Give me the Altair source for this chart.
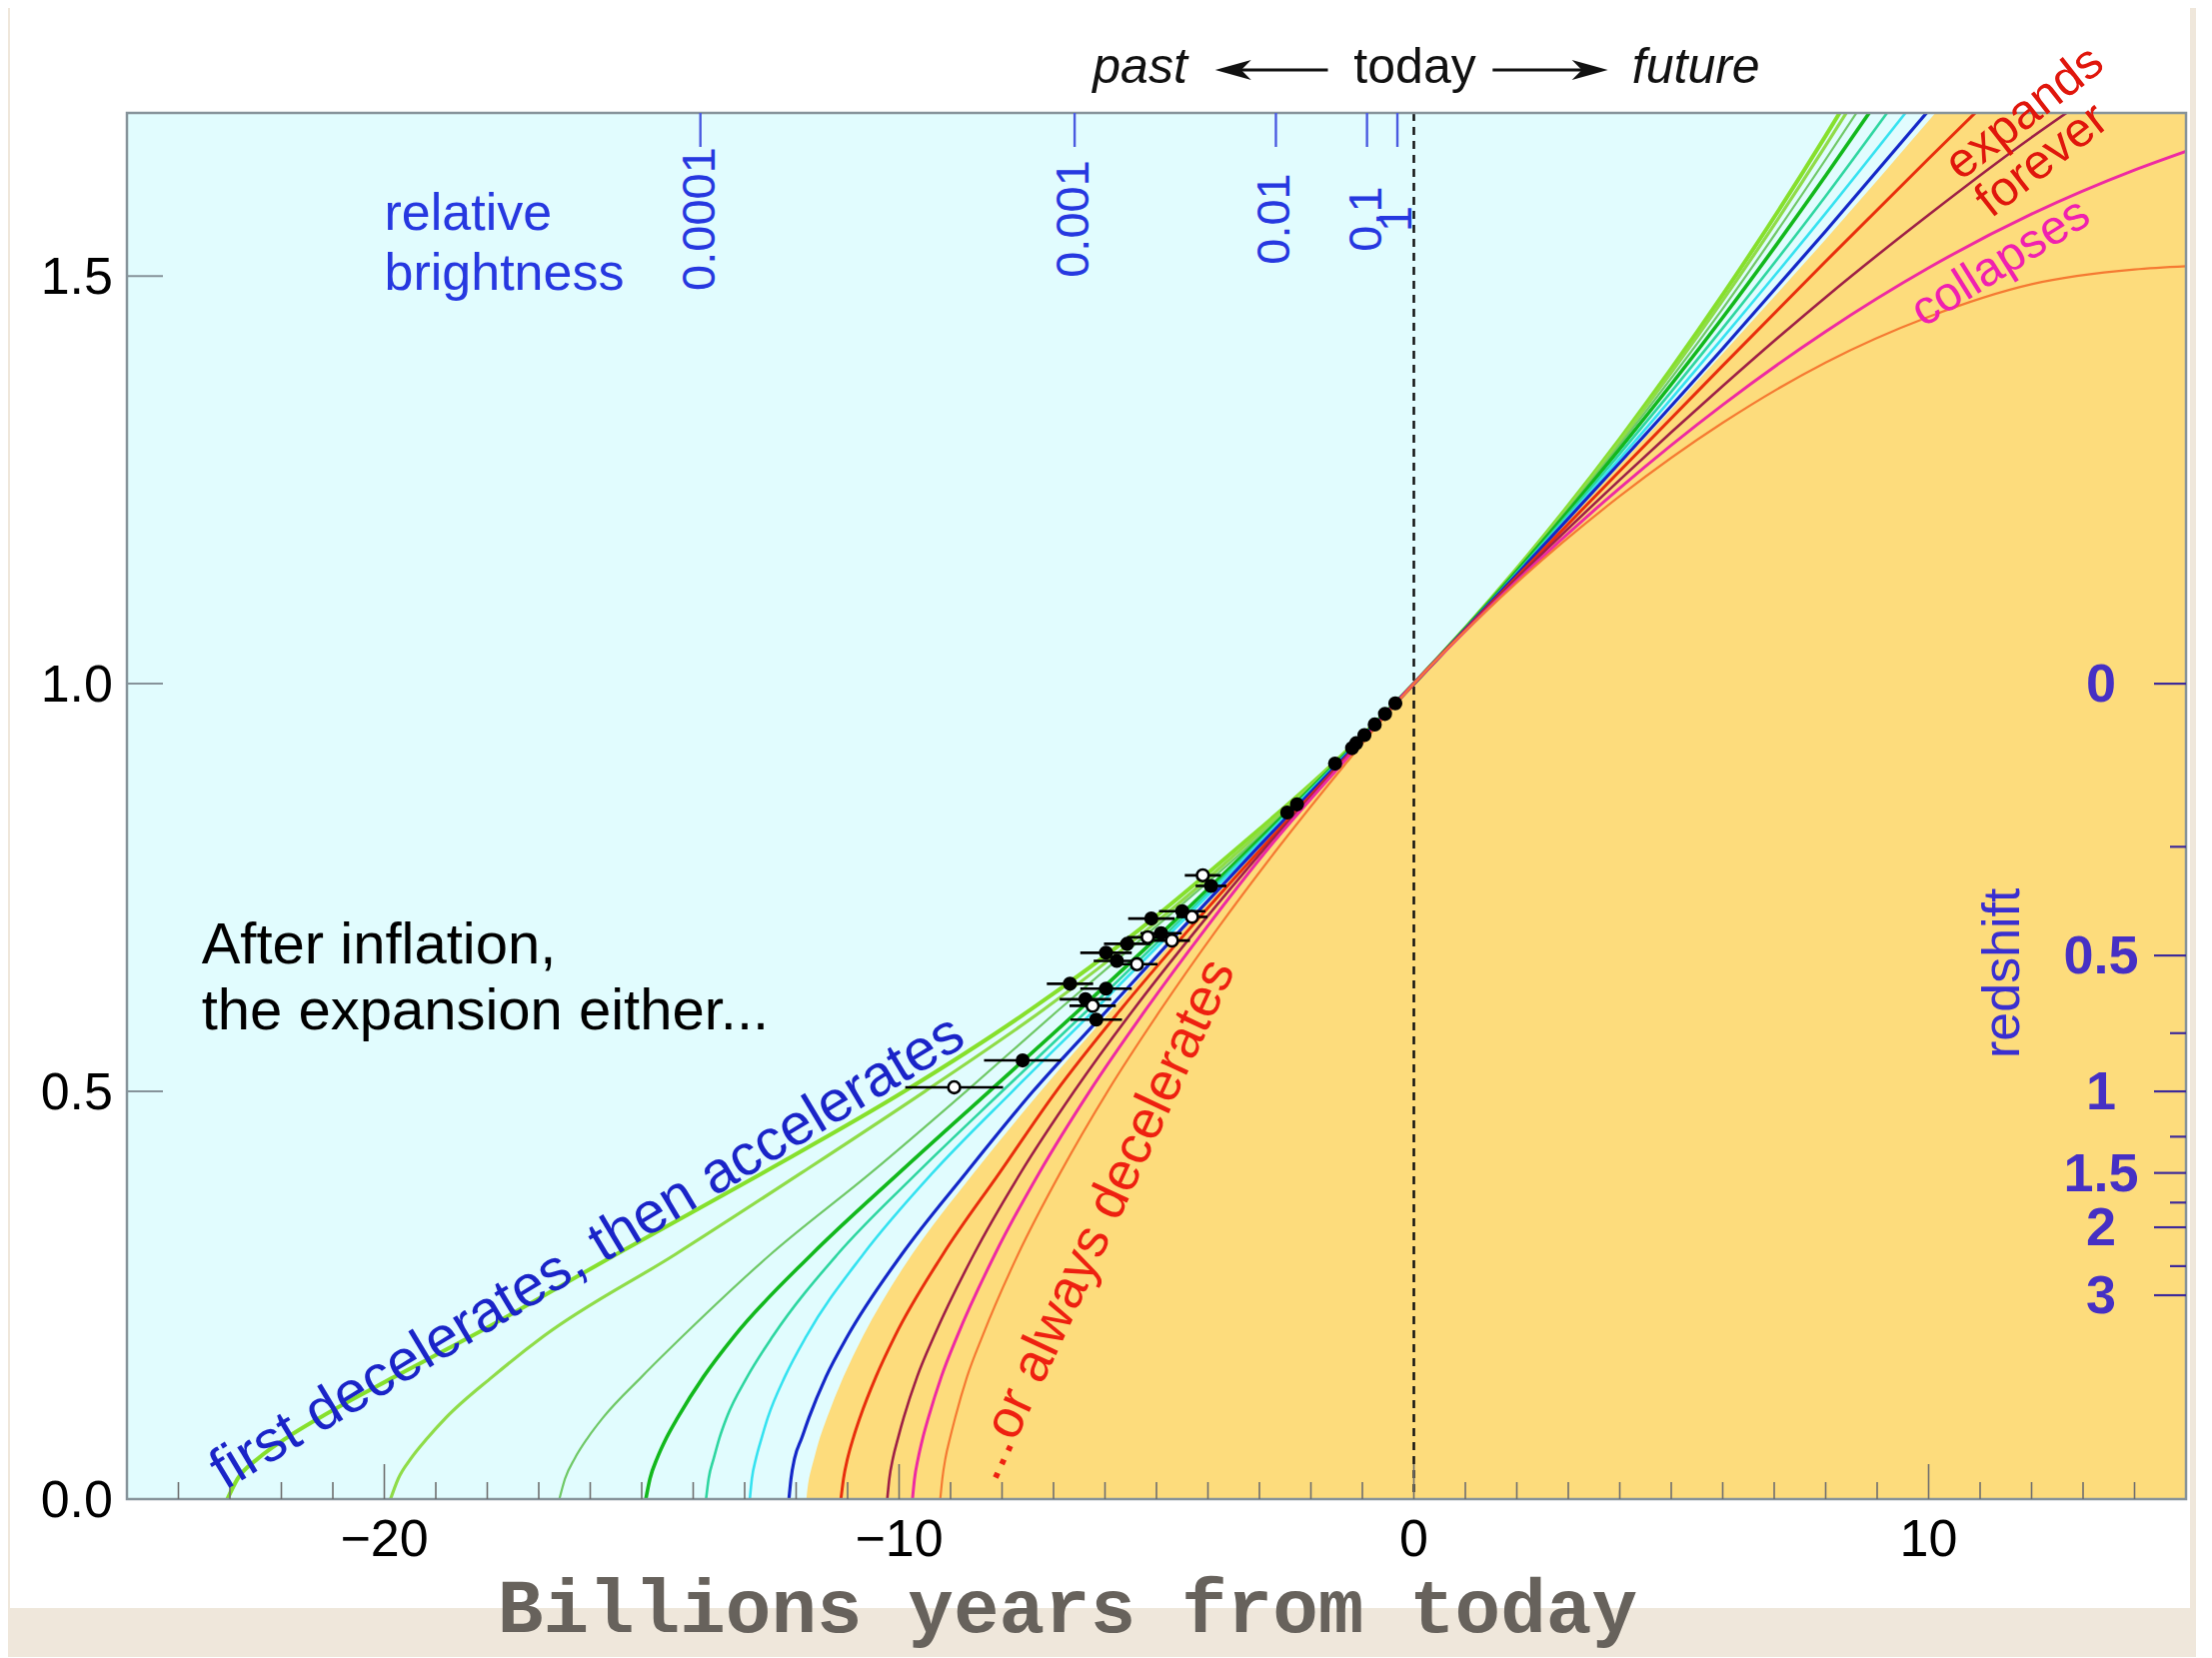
import altair as alt
import pandas as pd

W, H = 2060, 1387
X_DOMAIN = [-25, 15]
Y_DOMAIN = [0, 1.7]

# ---------------- curve readings (x = billions of years from today, y = relative size) ----------
PAST_Y = [0, 0.025, 0.05, 0.075, 0.1, 0.15, 0.2, 0.3, 0.4, 0.5, 0.6, 0.7, 0.8, 0.9, 1.0]

C1_X = [-23.05, -22.85, -22.45, -21.9, -21.25, -19.8, -18.3, -15.5, -12.65, -9.9, -7.45, -5.3, -3.4, -1.6, 0, 2, 4, 6, 8, 8.3]
C1_F = [1.141, 1.300, 1.477, 1.672, 1.703]
C2_X = [-19.88, -19.73, -19.48, -19.16, -18.8, -17.9, -16.9, -14.35, -11.9, -9.5, -7.2, -5.15, -3.3, -1.58, 0, 2, 4, 6, 8, 8.45]
C2_F = [1.140, 1.297, 1.470, 1.660, 1.705]
C3_X = [-16.6, -16.49, -16.3, -16.05, -15.75, -15.0, -14.2, -12.5, -10.55, -8.7, -6.9, -5.05, -3.22, -1.56, 0, 2, 4, 6, 8, 8.65]
C3_F = [1.139, 1.293, 1.460, 1.643, 1.705]
C4_X = [-14.92, -14.84, -14.7, -14.52, -14.3, -13.8, -13.2, -11.7, -10.0, -8.25, -6.5, -4.8, -3.15, -1.55, 0, 2, 4, 6, 8, 8.9]
C4_F = [1.138, 1.288, 1.449, 1.623, 1.705]
C5_X = [-13.75, -13.70, -13.6, -13.49, -13.35, -12.95, -12.45, -11.2, -9.65, -8.0, -6.33, -4.7, -3.1, -1.53, 0, 2, 4, 6, 8, 9.25]
C5_F = [1.136, 1.282, 1.436, 1.598, 1.705]
C6_X = [-12.9, -12.86, -12.78, -12.67, -12.55, -12.22, -11.8, -10.7, -9.35, -7.8, -6.2, -4.63, -3.07, -1.52, 0, 2, 4, 6, 8, 9.6]
C6_F = [1.135, 1.276, 1.424, 1.577, 1.704]
C7_X = [-12.14, -12.10, -12.03, -11.89, -11.75, -11.42, -11.0, -9.95, -8.7, -7.4, -5.95, -4.5, -3.02, -1.5, 0, 2, 4, 6, 8, 10]
C7_F = [1.134, 1.271, 1.411, 1.555, 1.703]
BND_X = [-11.8, -11.75, -11.65, -11.54, -11.4, -11.08, -10.7, -9.75, -8.55, -7.25, -5.87, -4.45, -2.98, -1.48, 0, 2, 4, 6, 8, 10.2]
BND_F = [1.133, 1.268, 1.405, 1.545, 1.705]
C8_X = [-11.13, -11.08, -11.0, -10.89, -10.76, -10.45, -10.08, -9.15, -8.05, -6.95, -5.70, -4.35, -2.93, -1.46, 0, 2, 4, 6, 8, 10, 11]
C8_F = [1.131, 1.261, 1.390, 1.518, 1.644, 1.706]
C9_X = [-10.23, -10.19, -10.12, -10.02, -9.91, -9.65, -9.32, -8.55, -7.64, -6.6, -5.45, -4.2, -2.87, -1.44, 0, 2, 4, 6, 8, 10, 12, 12.7]
C9_F = [1.129, 1.250, 1.365, 1.474, 1.575, 1.670, 1.701]
C10_X = [-9.74, -9.70, -9.63, -9.54, -9.43, -9.18, -8.87, -8.14, -7.28, -6.30, -5.21, -4.04, -2.8, -1.42, 0, 2, 4, 6, 8, 10, 12, 14, 15]
C10_F = [1.126, 1.240, 1.342, 1.432, 1.51, 1.576, 1.630, 1.653]
C11_X = [-9.2, -9.16, -9.1, -9.01, -8.91, -8.68, -8.38, -7.69, -6.87, -5.95, -4.92, -3.81, -2.62, -1.35, 0, 2, 4, 6, 8, 10, 12, 14, 15]
C11_F = [1.124, 1.230, 1.320, 1.394, 1.45, 1.49, 1.508, 1.512]

CURVES = [
    ("c1", C1_X, PAST_Y + C1_F, "#86e02c", 4.0),
    ("c2", C2_X, PAST_Y + C2_F, "#8fdc48", 3.2),
    ("c3", C3_X, PAST_Y + C3_F, "#6fc866", 2.2),
    ("c4", C4_X, PAST_Y + C4_F, "#12b81c", 3.6),
    ("c5", C5_X, PAST_Y + C5_F, "#2ed6a0", 2.6),
    ("c6", C6_X, PAST_Y + C6_F, "#35e2f0", 2.6),
    ("c7", C7_X, PAST_Y + C7_F, "#1428c8", 3.2),
    ("c8", C8_X, PAST_Y + C8_F, "#e82e0c", 3.0),
    ("c9", C9_X, PAST_Y + C9_F, "#9e1f46", 2.6),
    ("c10", C10_X, PAST_Y + C10_F, "#ee2aa2", 3.0),
    ("c11", C11_X, PAST_Y + C11_F, "#f57a32", 2.2),
]

# ---------------- supernova points ----------------
PT_X = [-0.36, -0.56, -0.76, -0.96, -1.12, -1.2, -1.53, -2.27, -2.46, -3.94, -4.10, -4.5, -4.31, -5.1,
        -4.91, -5.17, -4.7, -5.57, -5.98, -5.38, -5.77, -6.68, -5.98, -6.38, -6.24, -6.17, -7.6, -8.93]
PT_Y = [0.976, 0.963, 0.950, 0.937, 0.927, 0.921, 0.902, 0.852, 0.842, 0.752, 0.765, 0.721, 0.714, 0.712,
        0.694, 0.689, 0.685, 0.681, 0.670, 0.656, 0.660, 0.632, 0.626, 0.613, 0.605, 0.588, 0.538, 0.505]
PT_OPEN = [0, 0, 0, 0, 0, 0, 0, 0, 0, 0, 1, 0, 1, 0, 0, 1, 1, 0, 0, 1, 0, 0, 0, 0, 1, 0, 0, 1]
PT_ERR = [0.06, 0.06, 0.06, 0.06, 0.06, 0.06, 0.08, 0.1, 0.1, 0.3, 0.35, 0.45, 0.3, 0.45, 0.4, 0.4,
          0.35, 0.45, 0.5, 0.4, 0.45, 0.45, 0.5, 0.5, 0.45, 0.5, 0.75, 0.95]

# ---------------- axes ----------------
X_MAJOR = [-20, -10, 0, 10]
X_LABELS = ["\u221220", "\u221210", "0", "10"]
X_MINOR = [-24, -23, -22, -21, -19, -18, -17, -16, -15, -14, -13, -12, -11, -9, -8, -7, -6, -5, -4, -3,
           -2, -1, 1, 2, 3, 4, 5, 6, 7, 8, 9, 11, 12, 13, 14]
Y_MAJOR = [0.0, 0.5, 1.0, 1.5]
Y_LABELS = ["0.0", "0.5", "1.0", "1.5"]
BRIGHT_X = [-13.86, -6.59, -2.68, -0.91, -0.32]
BRIGHT_LABELS = ["0.0001", "0.001", "0.01", "0.1", "1"]
Z_MAJOR = [0, 0.5, 1, 1.5, 2, 3]
Z_LABELS = ["0", "0.5", "1", "1.5", "2", "3"]
Z_MINOR = [0.25, 0.75, 1.25, 1.75, 2.5]

FONT = "Liberation Sans"
xsc = alt.Scale(domain=X_DOMAIN, nice=False, zero=False)
ysc = alt.Scale(domain=Y_DOMAIN, nice=False, zero=False)


def XF(f="x"):
    return alt.X(f"{f}:Q", scale=xsc, axis=None)


def YF(f="y"):
    return alt.Y(f"{f}:Q", scale=ysc, axis=None)


one = pd.DataFrame({"k": [0]})
layers = []

# white card and plot backgrounds
layers.append(alt.Chart(one).mark_rect(color="#ffffff").encode(
    x=alt.value(-117), x2=alt.value(2064), y=alt.value(-107), y2=alt.value(1496)))
layers.append(alt.Chart(one).mark_rect(color="#e1fcfe").encode(
    x=alt.value(0), x2=alt.value(W), y=alt.value(0), y2=alt.value(H)))

# orange (always-decelerating) region
bnd = pd.DataFrame({"x": BND_X, "y": PAST_Y + BND_F})
bnd["xr"] = X_DOMAIN[1]
layers.append(alt.Chart(bnd).mark_area(orient="horizontal", interpolate="monotone", clip=True,
                                        color="#fddc7c").encode(x=XF(), x2="xr:Q", y=YF()))

# dashed "today" line
layers.append(alt.Chart(pd.DataFrame({"x": [0]})).mark_rule(color="#111111", strokeWidth=2.5,
                                                            strokeDash=[8, 6]).encode(
    x=XF(), y=alt.value(0), y2=alt.value(H)))

# expansion curves
for name, xs, ys, col, sw in CURVES:
    df = pd.DataFrame({"x": xs, "y": ys})
    layers.append(alt.Chart(df).mark_line(interpolate="monotone", clip=True, color=col,
                                          strokeWidth=sw).encode(x=XF(), y=YF()))

# supernova data
pts = pd.DataFrame({"x": PT_X, "y": PT_Y, "open": PT_OPEN, "err": PT_ERR})
pts["lo"] = pts["x"] - pts["err"]
pts["hi"] = pts["x"] + pts["err"]
layers.append(alt.Chart(pts).mark_rule(color="#000000", strokeWidth=2.6).encode(
    x=XF("lo"), x2="hi:Q", y=YF()))
layers.append(alt.Chart(pts[pts["open"] == 0]).mark_point(filled=True, color="#000000", size=200,
                                                          opacity=1).encode(x=XF(), y=YF()))
layers.append(alt.Chart(pts[pts["open"] == 1]).mark_point(filled=True, fill="#ffffff", stroke="#000000",
                                                          strokeWidth=2.6, size=140, opacity=1).encode(
    x=XF(), y=YF()))

# frame
layers.append(alt.Chart(one).mark_rect(fillOpacity=0, stroke="#86939a", strokeWidth=2.5).encode(
    x=alt.value(0), x2=alt.value(W), y=alt.value(0), y2=alt.value(H)))

# bottom ticks
layers.append(alt.Chart(pd.DataFrame({"x": X_MINOR})).mark_rule(color="#6e6e6e", strokeWidth=1.6).encode(
    x=XF(), y=alt.value(H), y2=alt.value(H - 17)))
layers.append(alt.Chart(pd.DataFrame({"x": X_MAJOR})).mark_rule(color="#6e6e6e", strokeWidth=1.6).encode(
    x=XF(), y=alt.value(H), y2=alt.value(H - 35)))
# left ticks
layers.append(alt.Chart(pd.DataFrame({"y": Y_MAJOR})).mark_rule(color="#86939a", strokeWidth=2).encode(
    y=YF(), x=alt.value(0), x2=alt.value(36)))
# top brightness ticks
layers.append(alt.Chart(pd.DataFrame({"x": BRIGHT_X})).mark_rule(color="#4a5ae0", strokeWidth=2.4).encode(
    x=XF(), y=alt.value(0), y2=alt.value(34)))
# right redshift ticks
zmaj = pd.DataFrame({"z": Z_MAJOR, "lab": Z_LABELS})
zmaj["y"] = 1.0 / (1.0 + zmaj["z"])
zmin = pd.DataFrame({"z": Z_MINOR})
zmin["y"] = 1.0 / (1.0 + zmin["z"])
layers.append(alt.Chart(zmaj).mark_rule(color="#3d2a9a", strokeWidth=2.2).encode(
    y=YF(), x=alt.value(W), x2=alt.value(W - 32)))
layers.append(alt.Chart(zmin).mark_rule(color="#3d2a9a", strokeWidth=2.2).encode(
    y=YF(), x=alt.value(W), x2=alt.value(W - 16)))

# tick labels
layers.append(alt.Chart(pd.DataFrame({"x": X_MAJOR, "lab": X_LABELS})).mark_text(
    font=FONT, fontSize=52, color="#000000", align="center", baseline="alphabetic").encode(
    x=XF(), y=alt.value(1444), text="lab:N"))
layers.append(alt.Chart(pd.DataFrame({"y": Y_MAJOR, "lab": Y_LABELS})).mark_text(
    font=FONT, fontSize=52, color="#000000", align="right", baseline="middle", dy=2).encode(
    y=YF(), x=alt.value(-14), text="lab:N"))
layers.append(alt.Chart(pd.DataFrame({"x": BRIGHT_X, "lab": BRIGHT_LABELS})).mark_text(
    font=FONT, fontSize=47, color="#2638e0", align="center", baseline="middle", angle=270).encode(
    x=XF(), y=alt.value(106), text="lab:N"))
layers.append(alt.Chart(zmaj).mark_text(
    font=FONT, fontSize=54, fontWeight="bold", color="#4630c4", align="center", baseline="middle", dy=2).encode(
    y=YF(), x=alt.value(1975), text="lab:N"))


def txt(x, y, s, size, color, align="center", baseline="middle", angle=0, style="normal",
        weight="normal", line_height=None, font=FONT):
    kw = dict(font=font, fontSize=size, color=color, align=align, baseline=baseline,
              angle=angle, fontStyle=style, fontWeight=weight, lineBreak="\n")
    if line_height:
        kw["lineHeight"] = line_height
    return alt.Chart(pd.DataFrame({"x": [x], "y": [y], "t": [s]})).mark_text(**kw).encode(
        x=XF(), y=YF(), text="t:N")


def txt_px(x, ypx, s, size, color, align="center", style="normal", weight="normal", font=FONT):
    return alt.Chart(pd.DataFrame({"x": [x], "t": [s]})).mark_text(
        font=font, fontSize=size, color=color, align=align, baseline="alphabetic",
        fontStyle=style, fontWeight=weight).encode(x=XF(), y=alt.value(ypx), text="t:N")


# annotations
layers.append(txt(-20.0, 1.556, "relative\nbrightness", 52, "#2638e0", align="left",
                  baseline="alphabetic", line_height=60))
layers.append(txt(-23.55, 0.657, "After inflation,\nthe expansion either...", 58, "#000000",
                  align="left", baseline="alphabetic", line_height=66))
layers.append(txt(-16.05, 0.302, "first decelerates, then accelerates", 58, "#1a24c8", angle=329))
layers.append(txt(-6.07, 0.3425, "...or always decelerates", 54, "#ee2010", angle=295))
layers.append(txt(11.86, 1.70, "expands", 49, "#e0160c", angle=322))
layers.append(txt(12.2, 1.642, "forever", 49, "#e0160c", angle=322))
layers.append(txt(11.4, 1.516, "collapses", 48, "#f020b0", angle=328))
layers.append(txt(11.44, 0.645, "redshift", 52, "#3a2fd0", angle=270))

# past <- today -> future
layers.append(txt_px(-5.32, -30, "past", 50, "#111111", style="italic"))
layers.append(txt_px(0.02, -30, "today", 50, "#111111"))
layers.append(txt_px(5.48, -30, "future", 50, "#111111", style="italic"))
arr = pd.DataFrame({"x": [-3.55, 1.53], "x2": [-1.67, 3.45]})
layers.append(alt.Chart(arr).mark_rule(color="#111111", strokeWidth=3).encode(
    x=XF(), x2="x2:Q", y=alt.value(-43)))
layers.append(alt.Chart(pd.DataFrame({"x": [-3.51]})).mark_point(
    shape="M-1,0L1,-0.55L0.45,0L1,0.55Z", filled=True, color="#111111", size=1296, opacity=1).encode(
    x=XF(), y=alt.value(-43)))
layers.append(alt.Chart(pd.DataFrame({"x": [3.42]})).mark_point(
    shape="M1,0L-1,-0.55L-0.45,0L-1,0.55Z", filled=True, color="#111111", size=1296, opacity=1).encode(
    x=XF(), y=alt.value(-43)))

# bottom title
layers.append(txt_px(-6.73, 1520, "Billions years from today", 76, "#67625c",
                     weight="bold", font="Liberation Mono"))

chart = alt.layer(*layers).properties(
    width=W, height=H,
    padding={"left": 119, "top": 105, "right": 10, "bottom": 158},
    autosize=alt.AutoSizeParams(type="none"),
    background="#efe7db",
).configure_view(strokeWidth=0)

chart.save("out.html", embed_options={"renderer": "svg", "actions": False})
